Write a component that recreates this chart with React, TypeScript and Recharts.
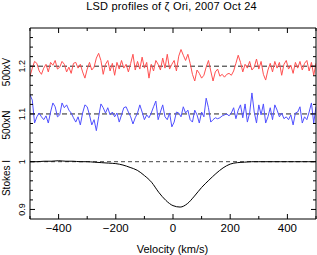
import React from "react";
import { ComposedChart, Line, XAxis, YAxis, ReferenceLine } from "recharts";

const velocity = [-500,-492,-484,-476,-468,-460,-452,-444,-436,-428,-420,-412,-404,-396,-388,-380,-372,-364,-356,-348,-340,-332,-324,-316,-308,-300,-292,-284,-276,-268,-260,-252,-244,-236,-228,-220,-212,-204,-196,-188,-180,-172,-164,-156,-148,-140,-132,-124,-116,-108,-100,-92,-84,-76,-68,-60,-52,-44,-36,-28,-20,-12,-4,4,12,20,28,36,44,52,60,68,76,84,92,100,108,116,124,132,140,148,156,164,172,180,188,196,204,212,220,228,236,244,252,260,268,276,284,292,300,308,316,324,332,340,348,356,364,372,380,388,396,404,412,420,428,436,444,452,460,468,476,484,492,500];

const stokesV = [
  1.179,1.196,1.210,1.206,1.190,1.183,1.196,1.204,1.188,1.208,
  1.202,1.212,1.194,1.198,1.210,1.204,1.188,1.198,1.185,1.206,
  1.208,1.196,1.204,1.188,1.175,1.194,1.208,1.192,1.198,1.217,
  1.227,1.212,1.183,1.204,1.212,1.190,1.206,1.181,1.208,1.194,
  1.212,1.196,1.204,1.188,1.206,1.225,1.192,1.210,1.194,1.219,
  1.196,1.208,1.175,1.204,1.190,1.212,1.204,1.192,1.217,1.196,
  1.225,1.194,1.204,1.212,1.190,1.221,1.235,1.223,1.212,1.225,
  1.206,1.183,1.169,1.192,1.185,1.175,1.181,1.198,1.212,1.190,
  1.169,1.188,1.194,1.179,1.183,1.177,1.183,1.185,1.181,1.190,
  1.206,1.223,1.208,1.188,1.204,1.196,1.210,1.192,1.198,1.215,
  1.194,1.210,1.183,1.171,1.192,1.206,1.188,1.210,1.196,1.208,
  1.181,1.204,1.212,1.194,1.202,1.185,1.208,1.196,1.210,1.192,
  1.206,1.212,1.190,1.208,1.181,1.206,
];

const stokesN = [
  1.140,1.129,1.081,1.094,1.102,1.094,1.088,1.096,1.081,1.104,
  1.123,1.115,1.094,1.098,1.123,1.113,1.119,1.108,1.102,1.092,
  1.083,1.094,1.077,1.102,1.119,1.115,1.098,1.077,1.088,1.065,
  1.094,1.121,1.113,1.102,1.113,1.098,1.104,1.094,1.102,1.083,
  1.098,1.113,1.115,1.104,1.094,1.079,1.092,1.102,1.119,1.104,
  1.088,1.098,1.092,1.102,1.115,1.127,1.088,1.104,1.119,1.094,
  1.088,1.102,1.073,1.083,1.104,1.102,1.094,1.115,1.102,1.108,
  1.088,1.083,1.108,1.098,1.081,1.104,1.094,1.133,1.113,1.083,
  1.088,1.092,1.090,1.092,1.096,1.098,1.100,1.096,1.102,1.113,
  1.090,1.108,1.119,1.092,1.121,1.083,1.102,1.144,1.104,1.081,
  1.119,1.098,1.121,1.081,1.094,1.113,1.088,1.119,1.108,1.094,
  1.102,1.090,1.094,1.088,1.098,1.077,1.102,1.104,1.115,1.081,
  1.094,1.088,1.104,1.123,1.081,1.115,
];

const velocityI = [-500,-475,-450,-425,-400,-375,-350,-325,-300,-275,-250,-225,-200,-175,-150,-125,-100,-75,-50,-25,0,25,50,75,100,125,150,175,200,225,250,275,300,325,350,375,400,425,450,475,500];
const stokesI = [
  1.000,1.000,1.001,1.001,1.002,1.001,1.001,1.000,1.000,0.999,
  0.998,0.997,0.996,0.993,0.988,0.982,0.971,0.957,0.936,0.919,
  0.908,0.905,0.912,0.928,0.946,0.961,0.975,0.987,0.995,0.998,
  0.999,1.000,1.000,1.000,1.000,1.000,1.000,1.000,1.000,1.000,
  1.000,
];

const xTicks = [-500,-400,-300,-200,-100,0,100,200,300,400,500];
const xLabelTicks = [-400,-200,0,200,400];
const yTicks = [0.9,0.92,0.94,0.96,0.98,1.0,1.02,1.04,1.06,1.08,1.1,1.12,1.14,1.16,1.18,1.2,1.22,1.24,1.26];
const yLabelTicks = [0.9,1.0,1.1,1.2];
const offsets = [1.2,1.1,1.0];
const title = "LSD profiles of ζ Ori, 2007 Oct 24";
const xTitle = "Velocity (km/s)";
const yTitles = [
  { text: "500xV", y: 72 },
  { text: "500xN", y: 125 },
  { text: "Stokes I", y: 178 },
];

const vData = velocity.map((v, i) => ({ v, y: stokesV[i] }));
const nData = velocity.map((v, i) => ({ v, y: stokesN[i] }));
const iData = velocityI.map((v, i) => ({ v, y: stokesI[i] }));

const FONT = "'Liberation Sans', Arial, Helvetica, sans-serif";
const isMajorX = (v: number) => xLabelTicks.includes(v);
const isMajorY = (v: number) => yLabelTicks.some((t) => Math.abs(t - v) < 1e-6);
const fmtX = (v: number) => (v < 0 ? "\u2212" + Math.abs(v) : String(v));
const fmtY = (v: number) => String(Math.round(v * 10) / 10);

const BottomTick = (p: any) => {
  const { x, y, payload } = p;
  const major = isMajorX(payload.value);
  return (
    <g>
      <line x1={x} x2={x} y1={y} y2={y - (major ? 5 : 3)} stroke="#000" strokeWidth={1} />
      {major && (
        <text x={x} y={y + 13} textAnchor="middle" fontSize={11.5} fontFamily={FONT} fill="#000">
          {fmtX(payload.value)}
        </text>
      )}
    </g>
  );
};

const TopTick = (p: any) => {
  const { x, y, payload } = p;
  const major = isMajorX(payload.value);
  return <line x1={x} x2={x} y1={y} y2={y + (major ? 5 : 3)} stroke="#000" strokeWidth={1} />;
};

const LeftTick = (p: any) => {
  const { x, y, payload } = p;
  const major = isMajorY(payload.value);
  const bx = 25.5;
  return (
    <g>
      <line x1={x} x2={x + (major ? 5 : 3)} y1={y} y2={y} stroke="#000" strokeWidth={1} />
      {major && (
        <text x={bx} y={y} transform={`rotate(-90 ${bx} ${y})`} textAnchor="middle" fontSize={9} fontFamily={FONT} fill="#000">
          {fmtY(payload.value)}
        </text>
      )}
    </g>
  );
};

const RightTick = (p: any) => {
  const { x, y, payload } = p;
  const major = isMajorY(payload.value);
  return <line x1={x} x2={x - (major ? 5 : 3)} y1={y} y2={y} stroke="#000" strokeWidth={1} />;
};

export default function App() {
  return (
    <div style={{ position: "absolute", left: 0, top: 0, width: 317, height: 255, background: "#fff" }}>
      <ComposedChart width={317} height={255} margin={{ top: 27, right: 0, bottom: 35, left: 29 }}>
        <XAxis xAxisId="b" type="number" dataKey="v" domain={[-500, 500]} allowDataOverflow ticks={xTicks} interval={0}
          height={1} tickSize={0} tickMargin={0} tickLine={false} tick={<BottomTick />} axisLine={{ stroke: "#000" }} />
        <XAxis xAxisId="t" orientation="top" type="number" dataKey="v" domain={[-500, 500]} allowDataOverflow ticks={xTicks} interval={0}
          height={1} tickSize={0} tickMargin={0} tickLine={false} tick={<TopTick />} axisLine={{ stroke: "#000" }} />
        <YAxis yAxisId="l" type="number" domain={[0.88, 1.28]} allowDataOverflow ticks={yTicks} interval={0}
          width={1} tickSize={0} tickMargin={0} tickLine={false} tick={<LeftTick />} axisLine={{ stroke: "#000" }} />
        <YAxis yAxisId="r" orientation="right" type="number" domain={[0.88, 1.28]} allowDataOverflow ticks={yTicks} interval={0}
          width={1} tickSize={0} tickMargin={0} tickLine={false} tick={<RightTick />} axisLine={{ stroke: "#000" }} />
        {offsets.map((o, i) => (
          <ReferenceLine key={o} xAxisId="b" yAxisId="l" y={o} stroke={i === 2 ? "#444" : "#222"} strokeDasharray={i === 2 ? "4 3" : "5 3"} strokeWidth={1} />
        ))}
        <Line xAxisId="b" yAxisId="l" data={vData} dataKey="y" type="linear" stroke="#ff5050" strokeWidth={1} dot={false} isAnimationActive={false} />
        <Line xAxisId="b" yAxisId="l" data={nData} dataKey="y" type="linear" stroke="#5050ff" strokeWidth={1} dot={false} isAnimationActive={false} />
        <Line xAxisId="b" yAxisId="l" data={iData} dataKey="y" type="monotone" stroke="#000" strokeWidth={1} dot={false} isAnimationActive={false} />
        <text x={171.5} y={10} textAnchor="middle" fontSize={11} letterSpacing={0.2} fontFamily={FONT} fill="#000">{title}</text>
        <text x={172.5} y={253} textAnchor="middle" fontSize={11} fontFamily={FONT} fill="#000">{xTitle}</text>
        {yTitles.map((t) => (
          <text key={t.text} x={10} y={t.y} transform={`rotate(-90 10 ${t.y})`} textAnchor="middle" fontSize={10} fontFamily={FONT} fill="#000">
            {t.text}
          </text>
        ))}
      </ComposedChart>
    </div>
  );
}
